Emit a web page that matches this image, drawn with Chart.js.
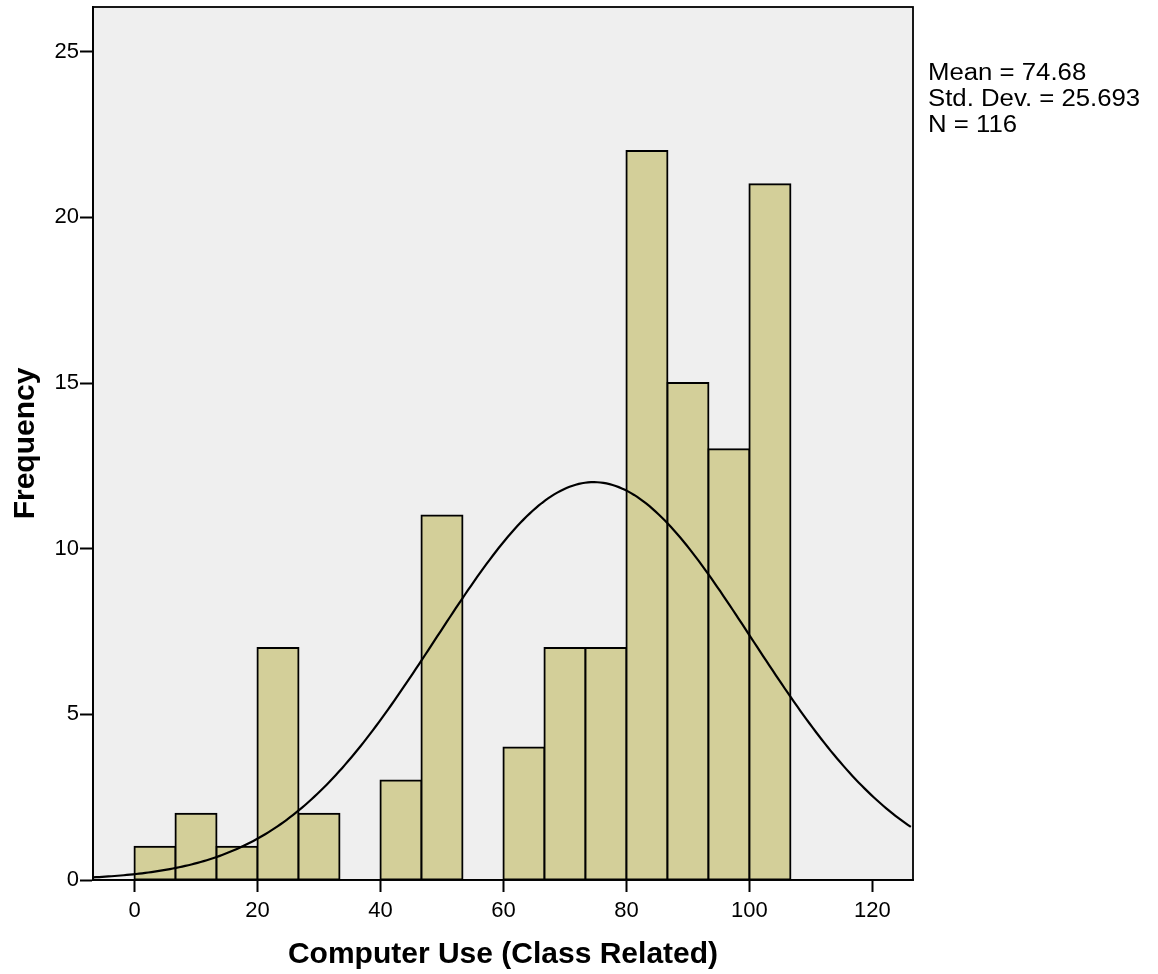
<!DOCTYPE html>
<html>
<head>
<meta charset="utf-8">
<script src="https://cdn.jsdelivr.net/npm/chart.js@4.4.1/dist/chart.umd.min.js"></script>
<style>
  body { margin: 0; background: #fff; }
  #wrap { width: 1158px; height: 974px; }
</style>
</head>
<body>
<div id="wrap"><canvas id="histChart"></canvas></div>
<script>
// histogram bins (lower edge) and counts
const binStarts = [0, 6.667, 13.333, 20, 26.667, 33.333, 40, 46.667, 53.333, 60, 66.667, 73.333, 80, 86.667, 93.333, 100];
const binCounts = [1, 2, 1, 7, 2, 0, 3, 11, 0, 4, 7, 7, 22, 15, 13, 21];
const binWidth = 6.667;

const xTickValues = [0, 20, 40, 60, 80, 100, 120];
const yTickValues = [0, 5, 10, 15, 20, 25];

// summary stats shown at the right
const statMean = 74.68;
const statSd = 25.693;
const statN = 116;
const statLines = ['Mean = 74.68', 'Std. Dev. = 25.693', 'N = 116'];

const xMin = -6.75, xMax = 126.6;
const yMax = 26.35;

const FONT = "'Liberation Sans', Arial, sans-serif";

// normal curve scaled to counts
const curvePoints = [];
for (let x = xMin; x <= xMax + 0.001; x += 0.5) {
    const z = (x - statMean) / statSd;
    const y = statN * binWidth / (statSd * Math.sqrt(2 * Math.PI)) * Math.exp(-0.5 * z * z);
    curvePoints.push({ x: x, y: y });
}

const barPoints = binStarts.map((s, i) => ({ x: s + binWidth / 2, y: binCounts[i] }));

const plotFrame = {
    id: 'plotFrame',
    beforeDraw(chart) {
        const a = chart.chartArea;
        const ctx = chart.ctx;
        ctx.save();
        ctx.fillStyle = '#efefef';
        ctx.fillRect(a.left, a.top, a.right - a.left, a.bottom - a.top);
        ctx.restore();
    },
    afterDraw(chart) {
        const a = chart.chartArea;
        const ctx = chart.ctx;
        ctx.save();
        ctx.strokeStyle = '#000';
        ctx.lineWidth = 1.8;
        ctx.strokeRect(a.left, a.top, a.right - a.left, a.bottom - a.top);

        // stats text, a bit wide
        ctx.fillStyle = '#000';
        ctx.font = '23px ' + FONT;
        ctx.textBaseline = 'alphabetic';
        ctx.textAlign = 'left';
        ctx.translate(928, 80);
        ctx.scale(1.12, 1);
        statLines.forEach((t, i) => ctx.fillText(t, 0, i * 26));
        ctx.restore();
    }
};

const ctx = document.getElementById('histChart').getContext('2d');
new Chart(ctx, {
    type: 'bar',
    data: {
        datasets: [{
            type: 'line',
            data: curvePoints,
            borderColor: '#000',
            borderWidth: 2.2,
            pointRadius: 0,
            fill: false,
            tension: 0,
            order: 0
        }, {
            type: 'bar',
            data: barPoints,
            backgroundColor: '#d3cf99',
            borderColor: '#000',
            borderWidth: 2,
            inflateAmount: 1,
            borderSkipped: false,
            barPercentage: 1,
            categoryPercentage: 1,
            order: 1
        }]
    },
    options: {
        responsive: true,
        maintainAspectRatio: false,
        animation: false,
        events: [],
        layout: { padding: { left: 0, right: 245, top: 7, bottom: 0 } },
        plugins: {
            legend: { display: false },
            tooltip: { enabled: false }
        },
        scales: {
            x: {
                type: 'linear',
                min: xMin,
                max: xMax,
                offset: false,
                afterFit: scale => { scale.height = 94; },
                afterBuildTicks: scale => { scale.ticks = xTickValues.map(v => ({ value: v })); },
                grid: { drawOnChartArea: false, drawTicks: true, tickLength: 12, tickWidth: 2, color: '#000', offset: false },
                border: { display: true, color: '#000', width: 1.8 },
                ticks: { color: '#000', padding: 6, maxRotation: 0, font: { family: FONT, size: 22 } },
                title: {
                    display: true,
                    text: 'Computer Use (Class Related)',
                    color: '#000',
                    padding: { top: 0, bottom: 1 },
                    font: { family: FONT, size: 30, weight: 'bold' }
                }
            },
            y: {
                min: 0,
                max: yMax,
                afterFit: scale => { scale.width = 93; scale.paddingTop = 0; },
                afterBuildTicks: scale => { scale.ticks = yTickValues.map(v => ({ value: v })); },
                grid: { drawOnChartArea: false, drawTicks: true, tickLength: 13, tickWidth: 2, color: '#000' },
                border: { display: true, color: '#000', width: 1.8 },
                ticks: { color: '#000', padding: 1, font: { family: FONT, size: 22 } },
                title: {
                    display: true,
                    text: 'Frequency',
                    color: '#000',
                    padding: { top: 8, bottom: 0 },
                    font: { family: FONT, size: 30, weight: 'bold' }
                }
            }
        }
    },
    plugins: [plotFrame]
});
</script>
</body>
</html>
